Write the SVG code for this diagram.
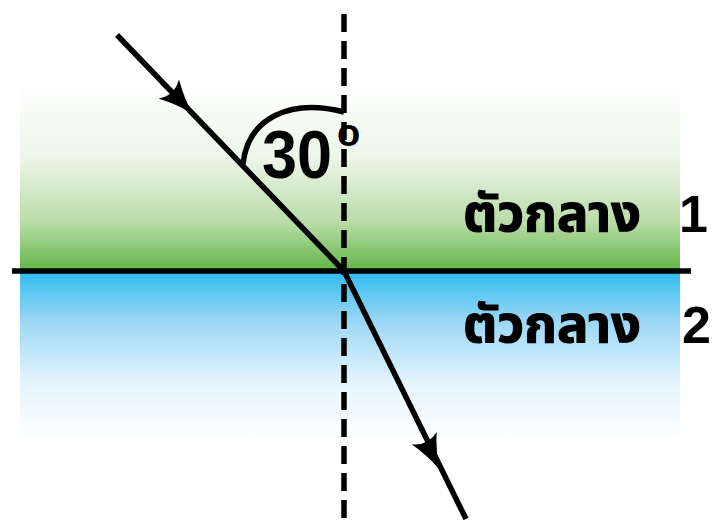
<svg xmlns="http://www.w3.org/2000/svg" width="720" height="524" viewBox="0 0 720 524">
<defs>
<linearGradient id="gGreen" x1="0" y1="0" x2="0" y2="1">
<stop offset="0" stop-color="#ffffff"/>
<stop offset="0.4" stop-color="#eef6ea"/>
<stop offset="0.75" stop-color="#b9dca8"/>
<stop offset="1" stop-color="#63b647"/>
</linearGradient>
<linearGradient id="gBlue" x1="0" y1="0" x2="0" y2="1">
<stop offset="0" stop-color="#30bcef"/>
<stop offset="0.3" stop-color="#9ed8f5"/>
<stop offset="0.65" stop-color="#e4f4fd"/>
<stop offset="1" stop-color="#ffffff"/>
</linearGradient>
<marker id="arr" viewBox="0 0 34 28" refX="32" refY="14" markerWidth="34" markerHeight="28" markerUnits="userSpaceOnUse" orient="auto">
<path d="M0,0 Q16,9 34,14 Q16,19 0,28 Q9,14 0,0 Z" fill="#000"/>
</marker>
<style>
.ln{stroke:#000;stroke-width:5.5;fill:none}
.lbl{font-family:"Noto Sans Thai","Noto Sans","DejaVu Sans",sans-serif;font-weight:bold;fill:#000;stroke:#000;stroke-width:1.2}
.num{font-family:"Liberation Sans",Arial,sans-serif;font-weight:bold;fill:#000}
</style>
</defs>
<rect x="0" y="0" width="720" height="524" fill="#fff"/>
<g id="medium1">
<rect x="20" y="80" width="660" height="190" fill="url(#gGreen)"/>
<text class="lbl" x="463" y="231" font-size="52" textLength="178" lengthAdjust="spacingAndGlyphs">ตัวกลาง</text>
<text class="num" x="708" y="232" font-size="52" text-anchor="end">1</text>
</g>
<g id="medium2">
<rect x="20" y="272" width="660" height="170" fill="url(#gBlue)"/>
<text class="lbl" x="463" y="342" font-size="52" textLength="178" lengthAdjust="spacingAndGlyphs">ตัวกลาง</text>
<text class="num" x="711" y="343" font-size="52" text-anchor="end">2</text>
</g>
<g id="connectors">
<line class="ln" x1="344" y1="14" x2="344" y2="524" stroke-dasharray="18 9"/>
<line class="ln" x1="12" y1="271" x2="691" y2="271"/>
<line class="ln" x1="117" y1="35" x2="344" y2="271"/>
<line x1="117" y1="35" x2="191" y2="112" stroke="none" marker-end="url(#arr)"/>
<line class="ln" x1="344" y1="271" x2="466" y2="519"/>
<line x1="344" y1="271" x2="438" y2="467" stroke="none" marker-end="url(#arr)"/>
</g>
<g id="angle">
<path class="ln" d="M243,164 C248,118 290,98 344,112" stroke-width="4.5"/>
<text class="num" transform="translate(262,178) scale(1,1.1)" font-size="63">30</text>
<text class="num" x="337" y="146" font-size="38">o</text>
</g>
</svg>
